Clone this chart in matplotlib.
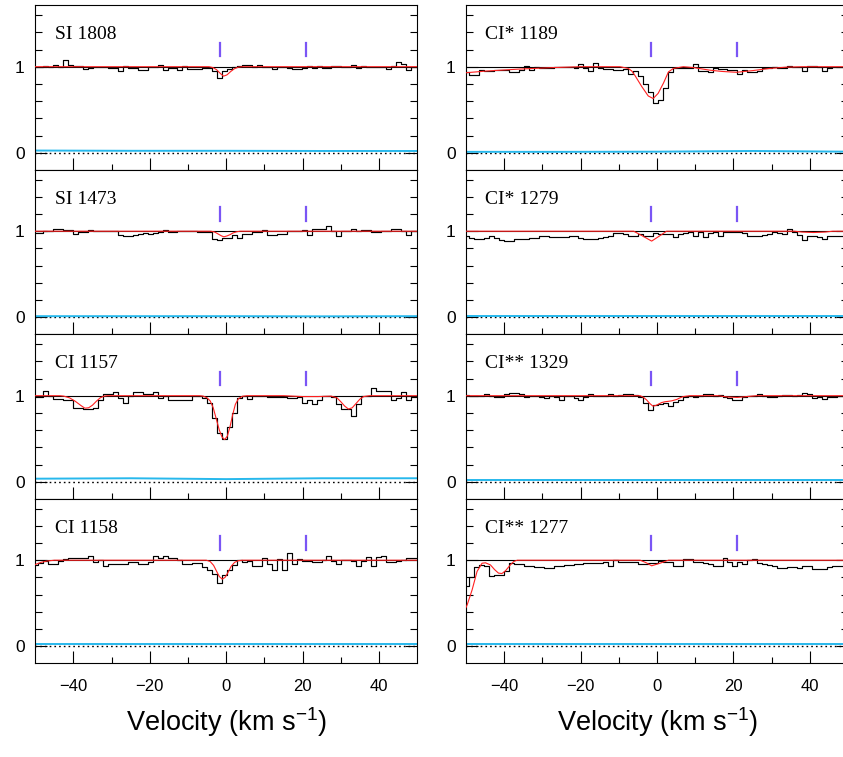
import numpy as np
import matplotlib
matplotlib.use("Agg")
import matplotlib.pyplot as plt
from matplotlib.ticker import FixedLocator

plt.rcParams['font.family'] = ['Liberation Sans', 'DejaVu Sans']
plt.rcParams['mathtext.fontset'] = 'custom'
plt.rcParams['mathtext.rm'] = 'Liberation Sans'
plt.rcParams['mathtext.it'] = 'Liberation Sans:italic'
plt.rcParams['mathtext.default'] = 'regular'

# ---------------- data ----------------
VEL_START = -49.8
VEL_STEP = 1.3
N_PIX = 78
vel = VEL_START + VEL_STEP * np.arange(N_PIX)

comp_v = [-1.6, 21.0]

names_left = ["SI 1808", "SI 1473", "CI 1157", "CI 1158"]
names_right = ["CI* 1189", "CI* 1279", "CI** 1329", "CI** 1277"]

flux_si1808 = [1.00, 1.00, 1.01, 1.00, 1.015, 1.00, 1.08, 1.015, 1.01, 1.01,
               0.97, 0.99, 1.00, 1.00, 1.00, 0.985, 0.985, 0.955, 1.01, 0.99,
               0.99, 0.96, 0.96, 1.00, 1.00, 1.02, 0.96, 0.985, 0.985, 0.96,
               1.01, 0.97, 0.97, 0.97, 0.99, 0.99, 0.955, 0.87, 0.955, 0.97,
               1.00, 1.01, 1.02, 1.02, 1.00, 1.015, 1.00, 1.00, 0.97, 1.00,
               1.00, 0.985, 0.975, 0.975, 0.99, 1.01, 0.985, 1.01, 0.99, 0.99,
               1.01, 1.01, 1.00, 1.00, 1.02, 0.985, 1.01, 1.00, 1.00, 1.00,
               1.00, 0.975, 1.01, 1.05, 1.03, 0.96, 1.00, 1.00]
flux_si1473 = [0.985, 0.985, 1.00, 1.00, 1.02, 1.02, 1.01, 1.01, 0.97, 0.99,
               0.99, 1.015, 1.00, 1.00, 1.00, 1.00, 1.00, 0.955, 0.95, 0.95,
               0.955, 0.97, 0.975, 0.97, 0.975, 0.99, 1.015, 0.99, 0.995, 1.00,
               1.00, 1.005, 1.00, 0.99, 0.99, 0.99, 0.915, 0.90, 0.92, 0.92,
               0.955, 0.92, 0.965, 0.965, 0.99, 0.99, 1.015, 0.955, 0.955, 0.97,
               0.97, 1.00, 1.00, 1.00, 1.015, 0.96, 1.02, 1.03, 1.03, 1.06,
               1.00, 0.945, 1.00, 1.00, 1.02, 1.00, 1.015, 1.015, 0.99, 0.99,
               1.005, 1.005, 1.02, 1.02, 1.00, 0.955, 1.00, 1.00]
flux_ci1157 = [0.985, 0.985, 1.06, 1.00, 0.96, 0.96, 0.955, 0.955, 0.86, 0.86,
               0.84, 0.84, 0.86, 0.95, 1.02, 1.02, 1.04, 0.97, 0.92, 1.00,
               1.04, 1.04, 1.02, 1.02, 1.04, 0.97, 1.00, 0.945, 0.945, 0.945,
               0.945, 0.945, 1.00, 1.00, 0.97, 0.92, 0.74, 0.57, 0.50, 0.64,
               0.80, 0.97, 1.00, 0.965, 1.00, 1.00, 1.00, 0.98, 0.98, 0.98,
               0.98, 0.97, 0.97, 0.98, 0.915, 0.955, 0.90, 0.95, 1.00, 1.00,
               0.98, 0.90, 0.84, 0.84, 0.76, 0.90, 1.00, 1.00, 1.09, 1.06,
               1.06, 1.06, 0.955, 0.97, 1.04, 0.955, 0.98, 1.00]
flux_ci1158 = [0.94, 0.97, 0.99, 0.96, 0.96, 0.99, 1.01, 1.03, 1.03, 1.02,
               1.03, 1.05, 0.98, 1.00, 0.93, 0.955, 0.955, 0.96, 0.96, 0.98,
               0.98, 0.96, 0.96, 0.98, 1.045, 1.02, 1.045, 1.02, 1.02, 1.00,
               0.96, 0.96, 0.97, 0.97, 0.92, 0.885, 0.845, 0.73, 0.825, 0.885,
               0.94, 1.00, 0.975, 0.99, 0.93, 0.93, 1.02, 0.96, 0.885, 1.01,
               0.885, 1.08, 0.955, 1.01, 0.99, 0.99, 0.98, 0.98, 1.00, 1.05,
               0.99, 0.955, 1.00, 1.00, 0.99, 0.93, 0.99, 1.04, 0.93, 1.04,
               1.045, 0.98, 0.98, 0.99, 1.00, 1.03, 1.03, 1.03]
flux_ci1189 = [0.94, 0.905, 0.905, 0.96, 0.95, 0.95, 0.96, 0.96, 0.96, 0.94,
               0.94, 0.96, 1.01, 0.96, 1.00, 0.98, 0.98, 0.98, 1.00, 1.00,
               1.00, 1.00, 0.98, 1.03, 0.98, 0.955, 1.04, 0.98, 0.975, 0.975,
               0.96, 0.96, 0.97, 0.92, 0.955, 0.89, 0.80, 0.71, 0.575, 0.61,
               0.75, 0.94, 0.98, 0.98, 0.98, 0.98, 1.03, 0.955, 0.955, 0.94,
               0.99, 0.975, 0.975, 0.96, 0.96, 0.92, 0.96, 0.94, 0.94, 0.95,
               0.98, 0.98, 1.00, 0.99, 0.99, 1.01, 1.00, 1.00, 0.955, 1.01,
               1.01, 1.00, 0.955, 0.99, 1.00, 1.00, 1.00, 1.00]
flux_ci1279 = [0.94, 0.925, 0.915, 0.915, 0.925, 0.94, 0.925, 0.90, 0.885, 0.89,
               0.905, 0.915, 0.915, 0.925, 0.925, 0.94, 0.94, 0.935, 0.935, 0.935,
               0.935, 0.94, 0.94, 0.925, 0.915, 0.905, 0.91, 0.925, 0.935, 0.95,
               0.98, 0.975, 0.97, 0.94, 0.945, 0.965, 0.94, 0.94, 0.98, 0.97,
               0.97, 0.965, 0.935, 0.965, 0.98, 0.99, 0.94, 0.99, 0.935, 0.98,
               0.99, 0.94, 0.99, 0.99, 0.99, 0.99, 0.98, 0.94, 0.95, 0.95,
               0.96, 0.97, 0.99, 0.98, 0.965, 1.03, 0.99, 0.955, 0.895, 0.94,
               0.94, 0.935, 0.915, 0.94, 0.94, 0.94, 0.94, 0.94]
flux_ci1329 = [1.005, 1.00, 1.00, 1.00, 1.02, 1.00, 0.99, 0.99, 1.02, 1.035,
               1.035, 1.02, 0.98, 0.995, 0.995, 0.99, 0.97, 1.00, 0.99, 0.955,
               1.00, 1.00, 0.97, 0.95, 0.98, 1.015, 1.00, 1.00, 0.995, 1.02,
               0.995, 1.005, 1.025, 1.025, 1.01, 0.985, 0.91, 0.83, 0.89, 0.90,
               0.91, 0.885, 0.925, 0.95, 0.98, 0.995, 0.99, 0.995, 1.025, 1.025,
               0.995, 1.005, 0.99, 0.97, 0.95, 0.955, 0.99, 0.995, 0.995, 1.02,
               0.995, 0.99, 0.99, 0.995, 1.005, 1.005, 0.995, 1.005, 1.035, 1.02,
               0.97, 0.99, 0.96, 0.98, 0.98, 1.00, 1.00, 1.00]
flux_ci1277 = [0.70, 0.80, 0.92, 0.945, 0.935, 0.82, 0.83, 0.83, 0.87, 0.97,
               0.955, 0.955, 0.935, 0.935, 0.92, 0.92, 0.915, 0.915, 0.935, 0.935,
               0.945, 0.945, 0.955, 0.955, 0.965, 0.965, 0.97, 0.97, 0.985, 0.935,
               1.00, 0.985, 0.985, 0.98, 0.98, 0.955, 0.955, 0.97, 0.97, 0.99,
               0.985, 0.985, 0.935, 0.935, 1.01, 1.01, 0.985, 0.985, 0.97, 0.955,
               0.93, 0.93, 1.03, 0.985, 0.935, 0.985, 0.955, 1.00, 1.015, 0.97,
               0.955, 0.945, 0.93, 0.91, 0.91, 0.92, 0.92, 0.91, 0.93, 0.93,
               0.895, 0.90, 0.90, 0.92, 0.93, 0.93, 0.93, 0.93]

# fitted model profiles (velocity, normalised flux)
model_si1808_v = [-50, -4.5, -3.5, -2.5, -1.5, -0.7, 0.2, 1.2, 2.2, 3.2, 4.2, 50]
model_si1808_f = [1.0, 1.0, 0.99, 0.965, 0.92, 0.89, 0.905, 0.945, 0.978, 0.995, 1.0, 1.0]
model_si1473_v = [-50, -4.0, -3.0, -2.0, -1.2, -0.6, 0.2, 1.0, 1.8, 2.7, 3.6, 50]
model_si1473_f = [1.0, 1.0, 0.99, 0.965, 0.945, 0.935, 0.945, 0.96, 0.98, 0.993, 1.0, 1.0]
model_ci1157_v = [-50, -43.5, -42.5, -41, -39.5, -38, -37, -36, -35, -34, -33, -32, -31,
                  -7, -6, -5, -4.2, -3.4, -2.6, -1.8, -1.1, -0.4, 0.3, 1.0, 1.7, 2.4, 3.2, 4.2, 5.5,
                  15, 20, 24, 27.5, 29, 30, 31, 32, 33, 34, 35, 36, 37.5, 50]
model_ci1157_f = [1.0, 1.0, 0.995, 0.975, 0.935, 0.885, 0.855, 0.86, 0.89, 0.935, 0.975, 0.995, 1.0,
                  1.0, 0.995, 0.975, 0.94, 0.86, 0.73, 0.60, 0.52, 0.49, 0.53, 0.64, 0.78, 0.90, 0.965, 0.993, 1.0,
                  1.0, 0.99, 0.99, 0.995, 0.975, 0.93, 0.88, 0.845, 0.86, 0.91, 0.96, 0.99, 1.0, 1.0]
model_ci1158_v = [-50, -48.5, -47, -45, -5.2, -4.2, -3.3, -2.5, -1.8, -1.05, -0.3, 0.5, 1.3, 2.2, 3.2, 4.2, 50]
model_ci1158_f = [0.95, 0.975, 0.99, 1.0, 1.0, 0.985, 0.94, 0.87, 0.81, 0.78, 0.80, 0.86, 0.93, 0.975, 0.995, 1.0, 1.0]
model_ci1189_v = [-50, -44.5, -35.8, -27.1, -20, -9.7, -7.5, -6.6, -5.8, -4.0, -2.3, -1.0, 0.3, 1.7, 3.0,
                  4.3, 6.9, 9.5, 13.8, 17, 20.8, 25.1, 29.5, 33.9, 38.2, 50]
model_ci1189_f = [0.93, 0.95, 0.973, 0.99, 1.0, 1.0, 0.98, 0.95, 0.90, 0.77, 0.66, 0.63, 0.69, 0.81, 0.94,
                  0.98, 1.0, 0.99, 0.96, 0.945, 0.935, 0.955, 0.98, 0.995, 1.0, 1.0]
model_ci1279_v = [-50, -6.1, -4.0, -1.4, 0.5, 2.5, 36, 38, 41, 44, 46, 50]
model_ci1279_f = [1.0, 1.0, 0.95, 0.885, 0.94, 1.0, 1.0, 0.99, 0.985, 0.99, 1.0, 1.0]
model_ci1329_v = [-50, -4.4, -3.5, -2.7, -1.9, -1.1, -0.4, 0.3, 1.2, 2.1, 3.0, 3.8, 5.2, 6.0, 6.9, 8.6,
                  16, 18.5, 21, 23.5, 26, 50]
model_ci1329_f = [1.0, 1.0, 0.98, 0.95, 0.91, 0.88, 0.885, 0.90, 0.92, 0.93, 0.935, 0.94, 0.957, 0.975, 0.99, 1.0,
                  1.0, 0.985, 0.98, 0.99, 1.0, 1.0]
model_ci1277_v = [-50, -49.7, -48.4, -47.1, -45.8, -44.9, -43.6, -42.5, -41.5, -40.6, -39.7, -38.4, -37.5, -36.6,
                  -4.4, -2.8, -1.4, 0.8, 3.0, 50]
model_ci1277_f = [0.45, 0.48, 0.655, 0.87, 0.965, 0.97, 0.945, 0.89, 0.85, 0.845, 0.875, 0.945, 0.985, 1.0,
                  1.0, 0.97, 0.935, 0.965, 1.0, 1.0]

# error spectra
err_v = [-50, -25, 0, 25, 50]
err_si1808 = [0.025, 0.022, 0.022, 0.02, 0.02]
err_si1473 = [0.012, 0.012, 0.012, 0.01, 0.012]
err_ci1157 = [0.035, 0.04, 0.03, 0.04, 0.04]
err_ci1158 = [0.03, 0.03, 0.03, 0.03, 0.03]
err_ci1189 = [0.01, 0.01, 0.012, 0.02, 0.012]
err_ci1279 = [0.01, 0.01, 0.01, 0.01, 0.01]
err_ci1329 = [0.015, 0.015, 0.015, 0.015, 0.015]
err_ci1277 = [0.02, 0.02, 0.02, 0.02, 0.02]

left_panels = [
    (names_left[0], flux_si1808, model_si1808_v, model_si1808_f, err_si1808),
    (names_left[1], flux_si1473, model_si1473_v, model_si1473_f, err_si1473),
    (names_left[2], flux_ci1157, model_ci1157_v, model_ci1157_f, err_ci1157),
    (names_left[3], flux_ci1158, model_ci1158_v, model_ci1158_f, err_ci1158),
]
right_panels = [
    (names_right[0], flux_ci1189, model_ci1189_v, model_ci1189_f, err_ci1189),
    (names_right[1], flux_ci1279, model_ci1279_v, model_ci1279_f, err_ci1279),
    (names_right[2], flux_ci1329, model_ci1329_v, model_ci1329_f, err_ci1329),
    (names_right[3], flux_ci1277, model_ci1277_v, model_ci1277_f, err_ci1277),
]

# ---------------- layout ----------------
W, H = 843, 757
fig = plt.figure(figsize=(W / 100, H / 100), dpi=100)
fig.patch.set_facecolor('white')

col_x = [35.2, 466.0]
ax_w = 382.0
top0 = 5.4
ph = 164.5

RED = '#ff2020'
CYAN = '#27b8ec'
PURPLE = '#7a55f5'

def draw_panel(ax, name, flux, mv, mf, err, bottom):
    ax.set_xlim(-50, 50)
    ax.set_ylim(-0.2, 1.713)
    ax.axhline(1.0, color='k', lw=0.8, zorder=1)
    ax.axhline(0.0, color='k', lw=1.0, ls=(0, (1.2, 2.2)), zorder=1)
    ax.plot(err_v, err, color=CYAN, lw=1.4, zorder=2)
    ax.step(vel, flux, where='mid', color='k', lw=0.85, zorder=3)
    ax.plot(mv, mf, color=RED, lw=0.8, zorder=4)
    for cv in comp_v:
        ax.plot([cv, cv], [1.12, 1.28], color=PURPLE, lw=1.6, zorder=4)
    ax.text(-44.9, 1.32, name, family='Liberation Serif', fontsize=14,
            ha='left', va='baseline')
    ax.xaxis.set_major_locator(FixedLocator([-40, -20, 0, 20, 40]))
    ax.xaxis.set_minor_locator(FixedLocator([-30, -10, 10, 30]))
    ax.yaxis.set_major_locator(FixedLocator([0, 1]))
    ax.yaxis.set_minor_locator(FixedLocator([0.2, 0.4, 0.6, 0.8, 1.2, 1.4, 1.6]))
    ax.set_yticklabels(['0', '1'])
    ax.tick_params(which='both', direction='in', top=False, right=True,
                   left=True, bottom=True, width=0.8, color='k')
    ax.tick_params(axis='x', which='major', length=8.6, labelsize=12, pad=11.5)
    ax.tick_params(axis='x', which='minor', length=4.3)
    ax.tick_params(axis='y', which='major', length=8.6, labelsize=12.5, pad=7.5)
    ax.tick_params(axis='y', which='minor', length=5.0)
    if not bottom:
        ax.tick_params(axis='x', labelbottom=False)
    for s in ax.spines.values():
        s.set_linewidth(0.8)
        s.set_color('k')

for c, panels in enumerate([left_panels, right_panels]):
    for r, (name, flux, mv, mf, err) in enumerate(panels):
        top = top0 + r * ph
        rect = [col_x[c] / W, 1 - (top + ph) / H, ax_w / W, ph / H]
        ax = fig.add_axes(rect)
        draw_panel(ax, name, flux, mv, mf, err, bottom=(r == 3))

for cx in [226.3, 657.0]:
    fig.text(cx / W, 1 - 722 / H, r'Velocity (km s$^{-1}$)', fontsize=19.5,
             ha='center', va='center')

fig.savefig('out.png', dpi=100)
